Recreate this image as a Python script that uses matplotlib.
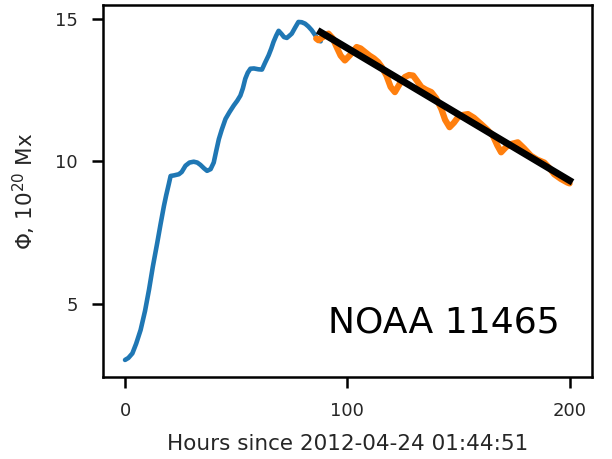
import matplotlib
matplotlib.use("Agg")
import matplotlib.pyplot as plt

# rising part of the flux curve
rise_hours = [0, 1.5, 3.3, 5, 7, 9, 10.8, 12.5, 14.5, 16, 17.5, 18.5, 19.7, 20.5,
              22, 24.2, 25.5, 27.2, 29, 30.9, 32.5, 33.9, 35.5, 36.9, 38.5, 39.9,
              41, 42.2, 43.5, 45.2, 47, 48.9, 50.5, 51.9, 53, 54.1, 55.2, 56.4,
              58, 60, 61.6, 63, 64.6, 65.8, 66.8, 68, 69.1, 70.5, 71.5, 72.8,
              74, 75, 76.5, 78, 79.5, 81, 82.5, 84, 85.5, 87, 88]
rise_flux = [3.03, 3.1, 3.26, 3.6, 4.08, 4.75, 5.5, 6.3, 7.14, 7.8, 8.43, 8.8, 9.2, 9.48,
             9.5, 9.54, 9.62, 9.84, 9.95, 9.98, 9.95, 9.87, 9.75, 9.66, 9.72, 9.95,
             10.35, 10.77, 11.1, 11.48, 11.72, 11.95, 12.12, 12.3, 12.55, 12.89, 13.1, 13.24,
             13.25, 13.22, 13.21, 13.45, 13.71, 13.95, 14.18, 14.4, 14.57, 14.45, 14.35, 14.32,
             14.4, 14.47, 14.68, 14.88, 14.87, 14.82, 14.72, 14.59, 14.42, 14.24, 14.2]

# decay part of the flux curve
decay_hours = [86, 87, 89, 91.5, 93.5, 95.2, 97, 98.9, 101, 104.2, 106, 107.9, 110,
               112, 113.9, 115.5, 117.6, 119.5, 121.4, 123.5, 125.9, 127.8, 129.6,
               131.5, 133.3, 135.5, 137.8, 140, 142.3, 144, 146, 148, 149.8, 152,
               154.3, 157, 160.2, 163, 165.5, 167.5, 169.2, 171.5, 173.7, 176.7,
               179.5, 182.6, 185.5, 188.6, 191, 193.1, 196, 199, 200]
decay_flux = [14.3, 14.24, 14.35, 14.47, 14.3, 14.0, 13.7, 13.53, 13.7, 14.0, 13.95, 13.83, 13.7,
              13.6, 13.47, 13.3, 13.0, 12.6, 12.42, 12.7, 12.95, 13.02, 13.0,
              12.8, 12.6, 12.5, 12.42, 12.2, 11.83, 11.45, 11.19, 11.35, 11.54, 11.62,
              11.65, 11.52, 11.3, 11.1, 10.89, 10.55, 10.31, 10.5, 10.6, 10.66,
              10.45, 10.19, 10.05, 9.95, 9.75, 9.54, 9.38, 9.25, 9.22]

# linear fit of the decay
fit_hours = [88, 200]
fit_flux = [14.52, 9.32]

x_ticks = [0, 100, 200]
y_ticks = [5, 10, 15]

text_color = "#262626"

fig = plt.figure(figsize=(6.12, 4.59), dpi=100)
ax = fig.add_axes([0.168, 0.179, 0.799, 0.81])

ax.plot(rise_hours, rise_flux, color="#1f77b4", lw=3.3, solid_capstyle="round")
ax.plot(decay_hours, decay_flux, color="#ff7f0e", lw=4.5, solid_capstyle="round")
ax.plot(fit_hours, fit_flux, color="black", lw=5)

ax.set_xticks(x_ticks)
ax.set_yticks(y_ticks)
ax.tick_params(length=8, width=1.8, pad=10, labelsize=13, labelcolor=text_color)
for s in ax.spines.values():
    s.set_linewidth(1.8)

ax.set_xlabel("Hours since 2012-04-24 01:44:51", fontsize=15.5, color=text_color, labelpad=10)
ax.set_ylabel(r"$\Phi$, $10^{20}$ Mx", fontsize=15.5, color=text_color, labelpad=12)

ax.text(0.935, 0.118, "NOAA 11465", transform=ax.transAxes, ha="right", va="baseline",
        fontsize=26, color="black")

fig.savefig("out.png", dpi=100)
